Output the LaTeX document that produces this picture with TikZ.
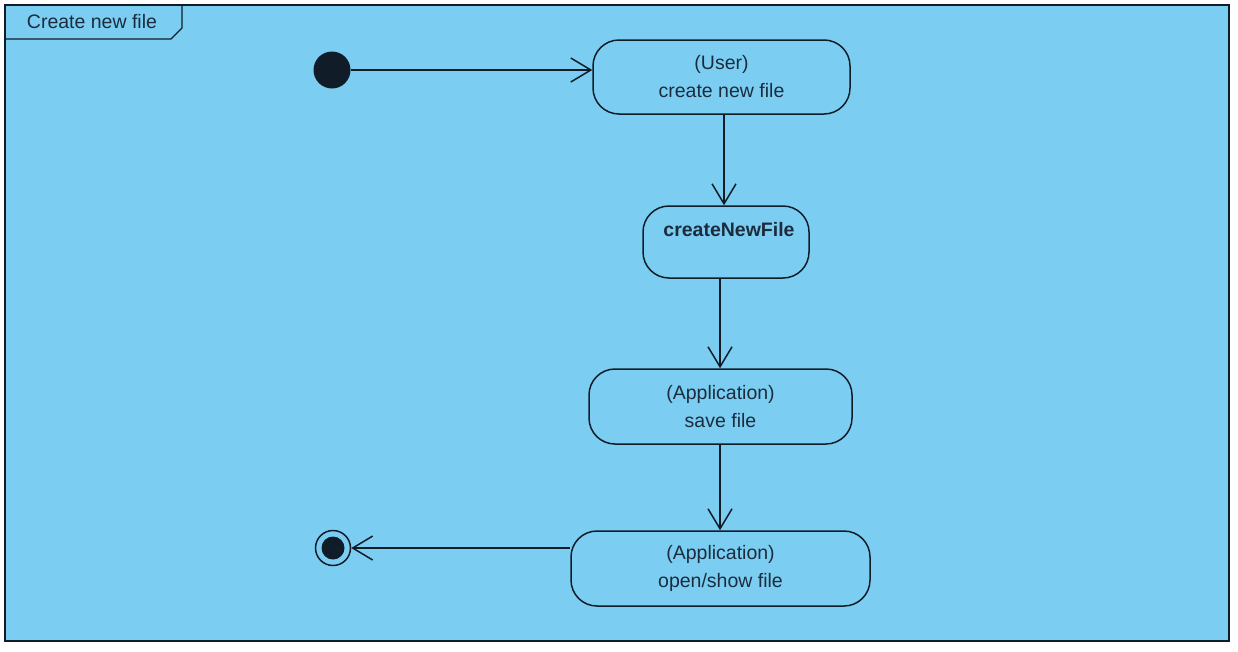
\documentclass[tikz,border=0pt]{standalone}
\usepackage{fontspec}
\setmainfont{Liberation Sans}
\usetikzlibrary{arrows.meta}
\definecolor{bgblue}{RGB}{123,206,241}
\definecolor{lineC}{RGB}{16,28,40}
\definecolor{textC}{RGB}{28,44,62}
\tikzset{
  act/.style={draw=lineC, line width=1.5pt, rounded corners=26pt, fill=bgblue, align=center,
    font=\fontsize{19.5}{28}\selectfont, text=textC, inner sep=0pt},
  arr/.style={draw=lineC, line width=1.6pt, -{Straight Barb[length=20pt,width=24pt,line width=1.5pt]}},
  lbl/.style={font=\fontsize{19.5}{28}\selectfont, text=textC, inner sep=0pt}
}
\begin{document}
\begin{tikzpicture}[x=1pt,y=-1pt]
\useasboundingbox (0,0) rectangle (1238,651);
\fill[white] (0,0) rectangle (1238,651);
% frame
\draw[lineC, line width=1.5pt, fill=bgblue] (5,5) rectangle (1229,641);
\draw[lineC, line width=1.3pt] (5,39) -- (171,39) -- (182,28) -- (182,5);
\node[lbl, anchor=center] (title) at (92,22) {Create new file};
% nodes
\node[circle, fill=lineC, minimum size=37pt, inner sep=0pt] (init) at (332,70) {};
\node[act, minimum width=257pt, minimum height=74pt] (user) at (721.5,77) {(User)\\create new file};
\node[act, minimum width=166pt, minimum height=72pt] (cnf) at (726,242) {};
\node[lbl, font=\fontsize{19.5}{28}\selectfont\bfseries] (cnflabel) at (729,230) {createNewFile};
\node[act, minimum width=263pt, minimum height=75pt] (save) at (720.5,406.5) {(Application)\\save file};
\node[act, minimum width=299pt, minimum height=75pt] (open) at (720.5,568.5) {(Application)\\open/show file};
\node[circle, draw=lineC, line width=1.5pt, minimum size=35pt, inner sep=0pt] (fin) at (333,548) {};
\fill[lineC] (fin.center) circle (11.5pt);
% edges
\draw[arr] (init) -- (init -| user.west);
\draw[arr] (user.south -| 724,0) -- (cnf.north -| 724,0);
\draw[arr] (cnf.south -| 720,0) -- (save.north -| 720,0);
\draw[arr] (save.south -| 720,0) -- (open.north -| 720,0);
\draw[arr] (open.west |- fin) -- (fin);
\end{tikzpicture}
\end{document}
